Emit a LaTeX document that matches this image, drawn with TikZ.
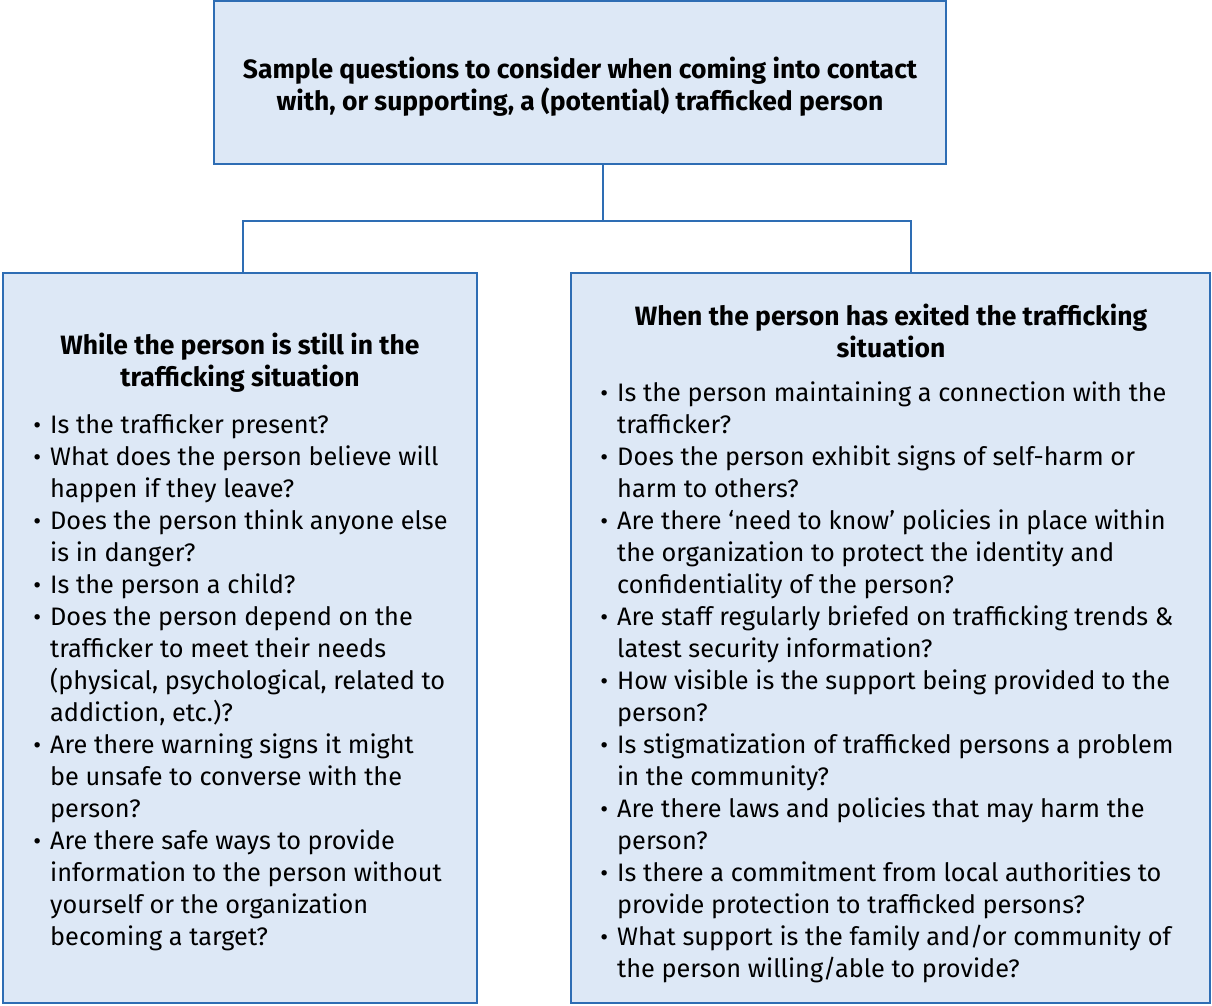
\documentclass[tikz,border=0pt]{standalone}
\usepackage{fontspec}
\setmainfont{Fira Sans}
\usetikzlibrary{positioning}
\definecolor{boxfill}{HTML}{DDE8F6}
\definecolor{boxline}{HTML}{2E6DB4}
\newcommand{\bul}{\llap{{\fontsize{24}{24}\selectfont\textbullet}\hspace{9pt}}}

\begin{document}
\begin{tikzpicture}[x=1pt,y=-1pt,
	qbox/.style={draw=boxline,fill=boxfill,line width=2.5pt,inner sep=0pt},
	qhead/.style={align=center,font=\fontsize{26.5}{32}\selectfont\bfseries},
	qlist/.style={align=left,anchor=north west,inner sep=0pt,font=\fontsize{25.3}{32}\selectfont},
	conn/.style={draw=boxline,line width=2.5pt}]
\useasboundingbox (0,0) rectangle (1212,1005);
% boxes
\node[qbox,minimum width=732pt,minimum height=163pt] (top) at (580,82.5) {};
\node[qbox,minimum width=474pt,minimum height=730pt] (left) at (240,638) {};
\node[qbox,minimum width=639pt,minimum height=730pt] (right) at (890.5,638) {};
% connectors
\coordinate (stem) at (603,221);
\coordinate (jl) at (243,221);
\coordinate (jr) at (911,221);
\draw[conn] (stem |- top.south) -- (stem);
\draw[conn] (jl |- left.north) -- (jl) -- (jr) -- (jr |- right.north);
% top title
\node[qhead] (thead) at (580,86.5)
	{Sample questions to consider when coming into contact\\with, or supporting, a (potential) trafficked person};
% left column
\node[qhead] (lhead) at (240,363) {While the person is still in the\\trafficking situation};
\node[qlist] (llist) at (50,414) {%
\bul Is the trafficker present?\\
\bul What does the person believe will\\
happen if they leave?\\
\bul Does the person think anyone else\\
is in danger?\\
\bul Is the person a child?\\
\bul Does the person depend on the\\
trafficker to meet their needs\\
(physical, psychological, related to\\
addiction, etc.)?\\
\bul Are there warning signs it might\\
be unsafe to converse with the\\
person?\\
\bul Are there safe ways to provide\\
information to the person without\\
yourself or the organization\\
becoming a target?};
% right column
\node[qhead] (rhead) at (891,331) {When the person has exited the trafficking\\situation};
\node[qlist] (rlist) at (617,382) {%
\bul Is the person maintaining a connection with the\\
trafficker?\\
\bul Does the person exhibit signs of self-harm or\\
harm to others?\\
\bul Are there ‘need to know’ policies in place within\\
the organization to protect the identity and\\
confidentiality of the person?\\
\bul Are staff regularly briefed on trafficking trends \&\\
latest security information?\\
\bul How visible is the support being provided to the\\
person?\\
\bul Is stigmatization of trafficked persons a problem\\
in the community?\\
\bul Are there laws and policies that may harm the\\
person?\\
\bul Is there a commitment from local authorities to\\
provide protection to trafficked persons?\\
\bul What support is the family and/or community of\\
the person willing/able to provide?};
\end{tikzpicture}
\end{document}
